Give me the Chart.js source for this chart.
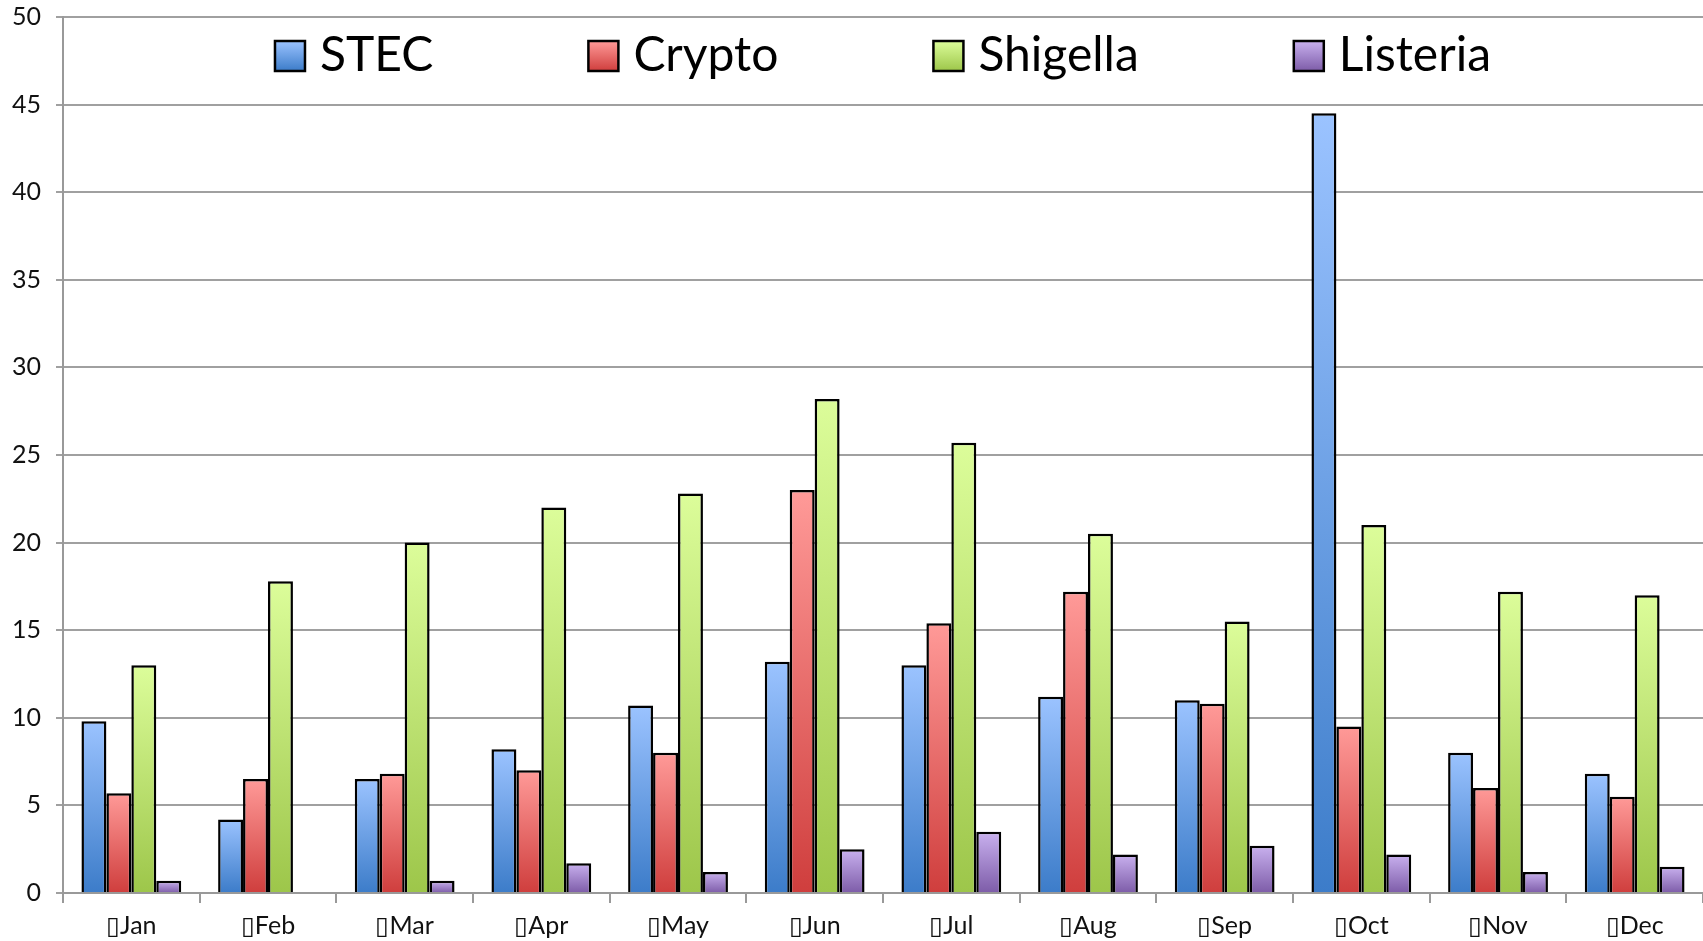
<!DOCTYPE html>
<html>
<head>
<meta charset="utf-8">
<script src="https://cdn.jsdelivr.net/npm/chart.js@4"></script>
<style>
  html, body { margin: 0; padding: 0; background: #fff; }
  #wrap { width: 1703px; height: 941px; }
</style>
</head>
<body>
<div id="wrap"><canvas id="chart" width="1703" height="941"></canvas></div>
<script>
// month labels (the source shows a missing-glyph box before each month)
const months = ['Jan','Feb','Mar','Apr','May','Jun','Jul','Aug','Sep','Oct','Nov','Dec'];
const monthLabels = months.map(m => '\u25AF' + m);

const stec     = [9.8, 4.2, 6.5, 8.2, 10.7, 13.2, 13.0, 11.2, 11.0, 44.5, 8.0, 6.8];
const crypto   = [5.7, 6.5, 6.8, 7.0, 8.0, 23.0, 15.4, 17.2, 10.8, 9.5, 6.0, 5.5];
const shigella = [13.0, 17.8, 20.0, 22.0, 22.8, 28.2, 25.7, 20.5, 15.5, 21.0, 17.2, 17.0];
const listeria = [0.7, null, 0.7, 1.7, 1.2, 2.5, 3.5, 2.2, 2.7, 2.2, 1.2, 1.5];

const seriesNames = ['STEC', 'Crypto', 'Shigella', 'Listeria'];
const yMin = 0, yMax = 50, yStep = 5;

const topColors    = ['#9bc3ff', '#ff9a98', '#dcfd9a', '#c9b1ef'];
const bottomColors = ['#3c7cc9', '#cf3e3d', '#9dc64a', '#7d5ca8'];

Chart.defaults.font.family = 'Lato, "Open Sans", sans-serif';
Chart.defaults.color = '#111';

// vertical gradient per bar, light at the top, dark at the base
function barFill(i) {
  return (ctx) => {
    const chart = ctx.chart;
    const y = chart.scales && chart.scales.y;
    if (!chart.chartArea || !y || ctx.raw == null) return bottomColors[i];
    const top = y.getPixelForValue(ctx.raw);
    const base = y.getPixelForValue(0);
    if (!(base > top)) return bottomColors[i];
    const g = chart.ctx.createLinearGradient(0, top, 0, base);
    g.addColorStop(0, topColors[i]);
    g.addColorStop(1, bottomColors[i]);
    return g;
  };
}

// legend drawn inside the plot, across the top
const insideLegend = {
  id: 'insideLegend',
  afterDraw(chart) {
    const c = chart.ctx, a = chart.chartArea;
    const box = 30, textGap = 15, itemGap = 155;
    const boxTop = 41, baseline = 71;
    c.save();
    c.font = '48px Lato, "Open Sans", sans-serif';
    const widths = chart.data.datasets.map(d => box + textGap + c.measureText(d.label).width);
    const total = widths.reduce((s, w) => s + w, 0) + itemGap * (widths.length - 1);
    let x = (a.left + a.right) / 2 - total / 2;
    chart.data.datasets.forEach((d, i) => {
      const g = c.createLinearGradient(0, boxTop, 0, boxTop + box);
      g.addColorStop(0, topColors[i]);
      g.addColorStop(1, bottomColors[i]);
      c.fillStyle = g;
      c.fillRect(x, boxTop, box, box);
      c.lineWidth = 2.5;
      c.strokeStyle = '#000';
      c.strokeRect(x, boxTop, box, box);
      c.fillStyle = '#000';
      c.textBaseline = 'alphabetic';
      c.textAlign = 'left';
      c.fillText(d.label, x + box + textGap, baseline);
      x += widths[i] + itemGap;
    });
    c.restore();
  }
};

const seriesData = [stec, crypto, shigella, listeria];

new Chart(document.getElementById('chart'), {
  type: 'bar',
  data: {
    labels: monthLabels,
    datasets: seriesData.map((vals, i) => ({
      label: seriesNames[i],
      data: vals,
      backgroundColor: barFill(i),
      borderColor: '#000',
      borderWidth: 2.5,
      categoryPercentage: 0.73,
      barPercentage: 1.0
    }))
  },
  options: {
    responsive: false,
    animation: false,
    layout: { padding: { top: 17, right: 0, left: 0, bottom: 0 } },
    plugins: {
      legend: { display: false },
      tooltip: { enabled: false }
    },
    scales: {
      x: {
        afterFit: s => { s.height = 48; },
        grid: {
          offset: true,
          drawOnChartArea: false,
          tickLength: 10,
          color: '#999',
          lineWidth: 2
        },
        border: { color: '#999', width: 2 },
        ticks: { font: { size: 25 }, color: '#111', padding: 8, maxRotation: 0 }
      },
      y: {
        min: yMin,
        max: yMax,
        afterFit: s => { s.width = 63; s.paddingTop = 0; s.paddingBottom = 0; },
        grid: { color: '#a0a0a0', lineWidth: 2, tickLength: 7 },
        border: { color: '#999', width: 2 },
        ticks: { stepSize: yStep, font: { size: 25 }, color: '#111', padding: 15 }
      }
    }
  },
  plugins: [insideLegend]
});
</script>
</body>
</html>
